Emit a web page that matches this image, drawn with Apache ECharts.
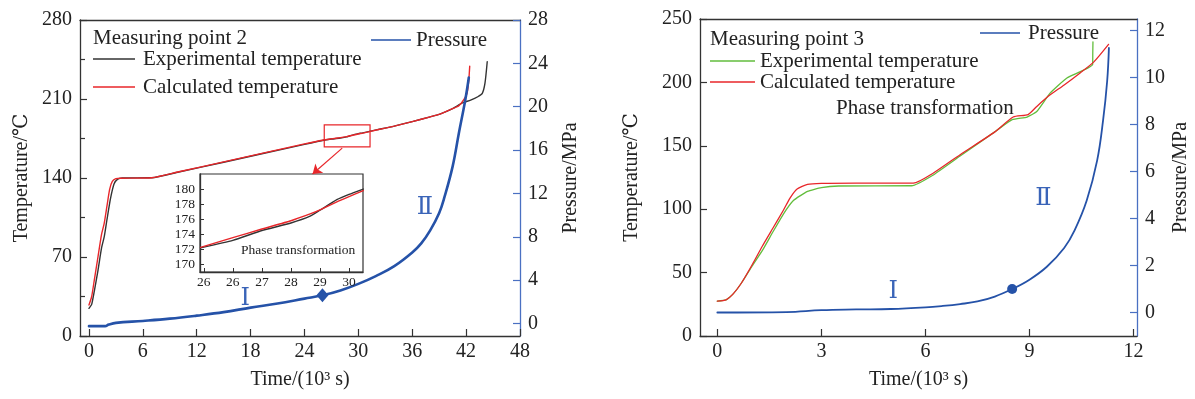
<!DOCTYPE html>
<html>
<head>
<meta charset="utf-8">
<script src="https://cdn.jsdelivr.net/npm/echarts@6/dist/echarts.min.js"></script>
<style>html,body{margin:0;padding:0;background:#fff;}#c{width:1195px;height:399px;}</style>
</head>
<body>
<div id="c"></div>
<script>
// ---------- Measuring point 2 (left panel) ----------
const mp2ExpTime = [0, 0.3, 0.6, 1.0, 1.4, 1.7, 2.0, 2.4, 2.8, 3.2, 3.7, 7.0, 10, 15, 20, 24, 26, 27, 28, 28.7, 29, 29.6, 30, 30.5, 32, 34, 36, 38, 39, 40.5, 41.6, 42.5, 43.3, 43.8, 44.1, 44.35];
const mp2ExpTemp = [24.5, 28, 40, 58, 78, 88, 103, 122, 135, 139, 140, 140.2, 145.3, 154, 162.8, 169.8, 173.2, 174.5, 175.5, 176.4, 177.2, 178.6, 179.3, 180.0, 182.6, 186, 190, 194.2, 196.4, 201.5, 206.5, 209, 212, 215, 224, 243];
const mp2CalcTime = [0, 0.3, 0.6, 1.0, 1.4, 1.7, 2.0, 2.3, 2.6, 3.0, 3.5, 7.0, 10, 15, 20, 24, 26, 27, 28, 28.7, 29, 30, 30.5, 32, 34, 36, 38, 39, 40.5, 41.2, 41.7, 42.1, 42.3, 42.4];
const mp2CalcTemp = [27.5, 35, 50, 70, 90, 100, 115, 130, 137, 139.5, 139.8, 140.2, 145.5, 154.3, 163.2, 170.2, 173.5, 174.7, 175.8, 176.7, 177.2, 179.0, 179.8, 182.5, 186, 190, 194.2, 196.4, 201.5, 204, 209, 215, 227, 239];
const mp2PressTime = [0, 1.8, 2.2, 3, 6, 9, 12, 15, 18, 21, 24, 26, 28, 30, 32, 34, 36, 37, 38, 39, 39.6, 40.5, 41.2, 41.9, 42.3];
const mp2Press = [-0.24, -0.24, -0.1, 0.06, 0.24, 0.45, 0.73, 1.05, 1.47, 1.85, 2.3, 2.6, 3.05, 3.66, 4.4, 5.3, 6.56, 7.4, 8.6, 10.2, 11.7, 14.5, 17.6, 20.6, 22.7];

// inset (zoom of 26-30 x 10^3 s)
const insetTime = [24.89, 26, 27, 28, 28.66, 29, 29.58, 30, 30.49];
const insetExpTemp = [172.2, 173.2, 174.5, 175.5, 176.4, 177.2, 178.6, 179.3, 180.0];
const insetCalcTemp = [172.27, 173.56, 174.7, 175.8, 176.7, 177.24, 178.3, 179.0, 179.8];
const insetTickValues = [25, 26, 27, 28, 29, 30];
const insetTickLabels = ['26', '26', '27', '28', '29', '30'];
const insetYTicks = [170, 172, 174, 176, 178, 180];

// ---------- Measuring point 3 (right panel) ----------
const mp3ExpTime = [0, 0.25, 0.45, 0.7, 1.0, 1.3, 1.6, 1.9, 2.2, 2.6, 3.0, 3.5, 5.6, 6.2, 7.0, 8.0, 8.5, 8.93, 9.21, 9.6, 10.08, 10.82, 10.825, 10.83];
const mp3ExpTemp = [27.5, 28.5, 33, 42, 55, 67.5, 82, 96, 107, 114, 117, 118.3, 118.5, 126.6, 142, 161, 170.6, 172.7, 177, 191.7, 203.5, 214, 223, 232];
const mp3CalcTime = [0, 0.25, 0.45, 0.7, 1.0, 1.3, 1.6, 1.9, 2.1, 2.3, 2.6, 3.0, 4.0, 5.65, 6.2, 7.0, 8.0, 8.53, 8.96, 9.21, 9.54, 10.0, 10.46, 10.85, 11.28];
const mp3CalcTemp = [27.5, 28.5, 33, 42, 56, 71, 85, 99, 109, 116, 119.5, 120.3, 120.5, 120.5, 128, 143, 161, 172.7, 174.6, 181, 189, 198, 207.5, 216, 230];
const mp3PressTime = [0, 2, 3, 4, 5, 6, 6.5, 7, 7.5, 8, 8.5, 9, 9.5, 10, 10.3, 10.65, 10.95, 11.12, 11.24, 11.29];
const mp3Press = [0, 0.02, 0.1, 0.13, 0.15, 0.22, 0.28, 0.36, 0.47, 0.68, 1.0, 1.4, 1.95, 2.75, 3.5, 4.77, 6.47, 8.16, 9.86, 11.27];

// tick labels
const mp2TimeTicks = [0, 6, 12, 18, 24, 30, 36, 42, 48];
const mp2PressTicks = [0, 4, 8, 12, 16, 20, 24, 28];
const mp3TimeTicks = [0, 3, 6, 9, 12];
const mp3PressTicks = [0, 2, 4, 6, 8, 10, 12];

// annotations (data coordinates)
const mp2Stage = [{ t: 17.4, p: 2.26, text: 'Ⅰ' }, { t: 37.4, p: 10.65, text: 'Ⅱ' }];
const mp3Stage = [{ t: 5.07, p: 0.88, text: 'Ⅰ' }, { t: 9.4, p: 4.85, text: 'Ⅱ' }];
const mp2Marker = [26, 2.6];
const mp3Marker = [8.5, 1.0];
const zoomBox = [[26.2, 187], [31.3, 167.5]];
const zoomArrow = [[28.2, 166.5], [24.9, 143.5]];

const zip = (a, b) => a.map((v, i) => [v, b[i]]);

const FONT = '"Liberation Serif","DejaVu Serif","Times New Roman",serif';
const TXT = '#222';
const BLACK = '#333';
const RED = '#e8262a';
const GREEN = '#62bd3c';
const BLUE = '#2552a8';
const AXBLUE = '#4a70c2';

function baseAxisStyle(color) {
  return {
    axisLine: { show: true, onZero: false, lineStyle: { color: color, width: 1.3 } },
    axisTick: { show: true, inside: true, length: 7, lineStyle: { color: color, width: 1.2 } },
    axisLabel: { color: TXT, fontFamily: FONT, fontSize: 20, margin: 8 },
    splitLine: { show: false },
    nameTextStyle: { color: TXT, fontFamily: FONT, fontSize: 20 }
  };
}

const chart = echarts.init(document.getElementById('c'), null, { renderer: 'canvas' });

const grids = [
  { left: 80, right: 675, top: 20, bottom: 63 },
  { left: 200, top: 174, width: 163, height: 98, show: true, backgroundColor: '#fff', borderColor: BLACK, borderWidth: 1.2, z: 5 },
  { left: 700, right: 58, top: 19, bottom: 63 }
];

const xAxes = [
  Object.assign(baseAxisStyle(BLACK), {
    type: 'value', gridIndex: 0, min: -1, max: 48,
    name: 'Time/(10³ s)', nameLocation: 'middle', nameGap: 34,
    axisLabel: { color: TXT, fontFamily: FONT, fontSize: 20, margin: 6, customValues: mp2TimeTicks },
    axisTick: { show: true, inside: true, length: 7, customValues: mp2TimeTicks, lineStyle: { color: BLACK, width: 1.2 } }
  }),
  { type: 'value', gridIndex: 0, position: 'top', min: -1, max: 48,
    axisLine: { show: true, onZero: false, lineStyle: { color: BLACK, width: 1.3 } },
    axisTick: { show: false }, axisLabel: { show: false }, splitLine: { show: false } },
  Object.assign(baseAxisStyle(BLACK), {
    type: 'value', gridIndex: 1, min: 24.87, max: 30.48, z: 6,
    axisLabel: { color: TXT, fontFamily: FONT, fontSize: 13.5, margin: 3, customValues: insetTickValues,
      formatter: v => insetTickLabels[insetTickValues.indexOf(Math.round(v))] },
    axisTick: { show: true, inside: true, length: 4, customValues: insetTickValues, lineStyle: { color: BLACK, width: 1 } }
  }),
  Object.assign(baseAxisStyle(BLACK), {
    type: 'value', gridIndex: 2, min: -0.5, max: 12.1,
    name: 'Time/(10³ s)', nameLocation: 'middle', nameGap: 34,
    axisLabel: { color: TXT, fontFamily: FONT, fontSize: 20, margin: 6, customValues: mp3TimeTicks },
    axisTick: { show: true, inside: true, length: 7, customValues: mp3TimeTicks, lineStyle: { color: BLACK, width: 1.2 } }
  }),
  { type: 'value', gridIndex: 2, position: 'top', min: -0.5, max: 12.1,
    axisLine: { show: true, onZero: false, lineStyle: { color: BLACK, width: 1.3 } },
    axisTick: { show: false }, axisLabel: { show: false }, splitLine: { show: false } }
];

const yAxes = [
  Object.assign(baseAxisStyle(BLACK), {
    type: 'value', gridIndex: 0, position: 'left', min: 0, max: 280, interval: 70,
    name: 'Temperature/℃', nameLocation: 'middle', nameGap: 48,
    minorTick: { show: true, splitNumber: 2, length: 5, lineStyle: { color: BLACK, width: 1.2 } }
  }),
  Object.assign(baseAxisStyle(AXBLUE), {
    type: 'value', gridIndex: 0, position: 'right', min: -1.15, max: 28,
    name: 'Pressure/MPa', nameLocation: 'middle', nameGap: 41,
    axisLabel: { color: TXT, fontFamily: FONT, fontSize: 20, margin: 8, customValues: mp2PressTicks },
    axisTick: { show: true, inside: true, length: 7, customValues: mp2PressTicks, lineStyle: { color: AXBLUE, width: 1.2 } }
  }),
  Object.assign(baseAxisStyle(BLACK), {
    type: 'value', gridIndex: 1, min: 169, max: 182, z: 6,
    axisLabel: { color: TXT, fontFamily: FONT, fontSize: 13.5, margin: 5, customValues: insetYTicks },
    axisTick: { show: true, inside: true, length: 4, customValues: insetYTicks, lineStyle: { color: BLACK, width: 1 } }
  }),
  Object.assign(baseAxisStyle(BLACK), {
    type: 'value', gridIndex: 2, position: 'left', min: 0, max: 250, interval: 50,
    name: 'Temperature/℃', nameLocation: 'middle', nameGap: 58
  }),
  Object.assign(baseAxisStyle(AXBLUE), {
    type: 'value', gridIndex: 2, position: 'right', min: -1, max: 12.5,
    name: 'Pressure/MPa', nameLocation: 'middle', nameGap: 34,
    axisLabel: { color: TXT, fontFamily: FONT, fontSize: 20, margin: 8, customValues: mp3PressTicks },
    axisTick: { show: true, inside: true, length: 7, customValues: mp3PressTicks, lineStyle: { color: AXBLUE, width: 1.2 } }
  })
];

function stageMarks(list) {
  return list.map(s => ({
    coord: [s.t, s.p], symbol: 'circle', symbolSize: 0,
    label: { show: true, position: 'inside', formatter: s.text, color: '#3a64b8', fontFamily: FONT, fontSize: 24 }
  }));
}

function lineSeries(name, data, color, width, xi, yi, extra) {
  return Object.assign({
    type: 'line', name: name, data: data, xAxisIndex: xi, yAxisIndex: yi,
    symbol: 'none', showSymbol: false, smooth: 0.2,
    lineStyle: { color: color, width: width, join: 'round', cap: 'round' }, itemStyle: { color: color },
    animation: false, silent: true, z: 3
  }, extra || {});
}

const series = [
  lineSeries('Experimental temperature', zip(mp2ExpTime, mp2ExpTemp), BLACK, 1.4, 0, 0),
  lineSeries('Calculated temperature', zip(mp2CalcTime, mp2CalcTemp), RED, 1.4, 0, 0, {
    markArea: {
      silent: true,
      itemStyle: { color: 'rgba(0,0,0,0)', borderColor: RED, borderWidth: 1.2 },
      data: [[{ coord: zoomBox[0] }, { coord: zoomBox[1] }]]
    },
    markLine: {
      silent: true, symbol: ['none', 'arrow'], symbolSize: 9,
      lineStyle: { color: RED, width: 1.2, type: 'solid' }, label: { show: false },
      data: [[{ coord: zoomArrow[0] }, { coord: zoomArrow[1] }]]
    }
  }),
  lineSeries('Pressure', zip(mp2PressTime, mp2Press), BLUE, 2.6, 0, 1, {
    smooth: 0.4,
    markPoint: {
      silent: true,
      data: stageMarks(mp2Stage).concat([{ coord: mp2Marker, symbol: 'diamond', symbolSize: [12, 14], itemStyle: { color: BLUE }, label: { show: false } }])
    }
  }),
  lineSeries('Inset experimental', zip(insetTime, insetExpTemp), BLACK, 1.4, 2, 2, { z: 7, smooth: 0.15 }),
  lineSeries('Inset calculated', zip(insetTime, insetCalcTemp), RED, 1.4, 2, 2, { z: 7, smooth: 0.15 }),
  lineSeries('Experimental temperature 3', zip(mp3ExpTime, mp3ExpTemp), GREEN, 1.3, 3, 3, { smooth: 0.15 }),
  lineSeries('Calculated temperature 3', zip(mp3CalcTime, mp3CalcTemp), RED, 1.3, 3, 3),
  lineSeries('Pressure 3', zip(mp3PressTime, mp3Press), BLUE, 1.8, 3, 4, {
    smooth: 0.4,
    markPoint: {
      silent: true,
      data: stageMarks(mp3Stage).concat([{ coord: mp3Marker, symbol: 'circle', symbolSize: 10, itemStyle: { color: BLUE }, label: { show: false } }])
    }
  })
];

function legendText(text, x, y, size) {
  return { type: 'text', z: 10, style: { text: text, x: x, y: y, font: (size || 21) + 'px ' + FONT, fill: TXT, verticalAlign: 'middle', align: 'left' } };
}
function legendLine(x1, x2, y, color, w) {
  return { type: 'line', z: 10, shape: { x1: x1, y1: y, x2: x2, y2: y }, style: { stroke: color, lineWidth: w || 1.4 } };
}

const graphic = [
  legendText('Measuring point 2', 93, 38),
  legendLine(93, 135, 59, BLACK), legendText('Experimental temperature', 143, 59),
  legendLine(93, 135, 87, RED), legendText('Calculated temperature', 143, 87),
  legendLine(371, 411, 40, BLUE, 1.6), legendText('Pressure', 416, 40),
  legendText('Measuring point 3', 710, 39),
  legendLine(710, 755, 61, GREEN), legendText('Experimental temperature', 760, 61),
  legendLine(710, 755, 82, RED), legendText('Calculated temperature', 760, 82),
  legendLine(980, 1020, 33, BLUE, 1.4), legendText('Pressure', 1028, 33),
  legendText('Phase transformation', 836, 108),
  legendText('Phase transformation', 241, 250, 13.5)
];

chart.setOption({
  animation: false,
  backgroundColor: '#fff',
  grid: grids,
  xAxis: xAxes,
  yAxis: yAxes,
  series: series,
  graphic: graphic
});
</script>
</body>
</html>
